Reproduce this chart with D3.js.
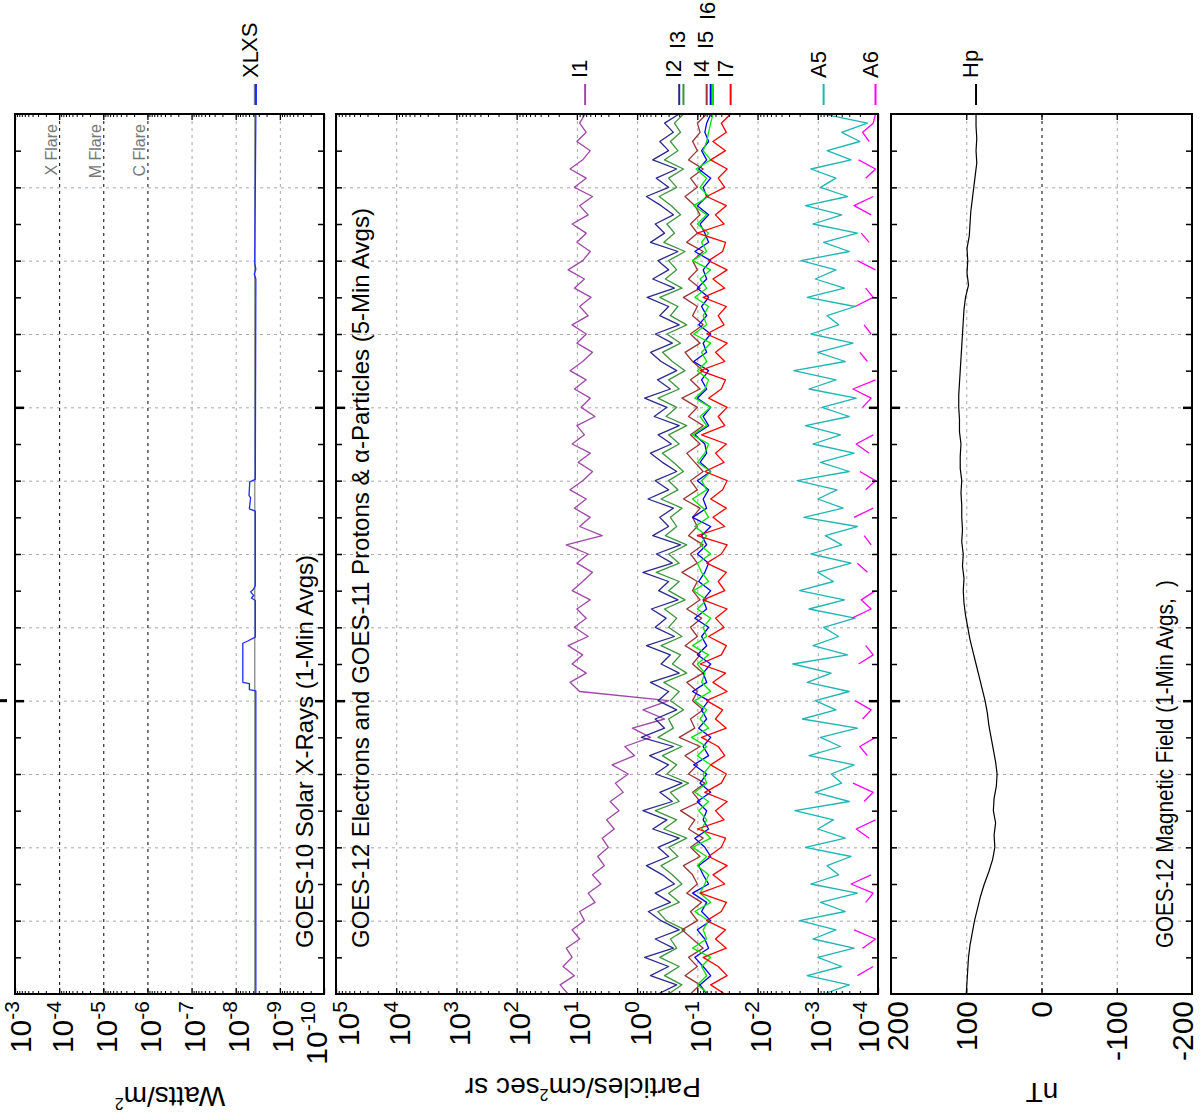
<!DOCTYPE html>
<html><head><meta charset="utf-8">
<script src="https://cdn.jsdelivr.net/npm/d3@7"></script>
<style>
html,body{margin:0;padding:0;background:#fff;}
svg{display:block;font-family:"Liberation Sans",Arial,Helvetica,sans-serif;}
</style></head><body>
<svg id="chart" width="1201" height="1120"></svg>
<script>
// ---------------- DATA ----------------
const hoursShown = 72;            // 3-day plot, time runs bottom -> top
const timeGridHours = [6,12,18,24,30,36,42,48,54,60,66];
const dayBoundaries = [24,48];

// X-rays (W/m^2)
const xrayTimes = [0,24.8,24.9,25.4,25.5,28.7,28.9,29.2,32.2,32.4,32.6,32.9,33.1,33.4,39.5,39.7,40.6,40.8,41.9,42.1,58.5,58.9,59.3,59.8,72];
const xlFlux = [3.5e-9,3.5e-9,4.9e-9,4.9e-9,6.9e-9,6.9e-9,5.2e-9,3.6e-9,3.6e-9,4.4e-9,3.9e-9,4.6e-9,4.0e-9,3.6e-9,3.6e-9,4.9e-9,4.6e-9,5.0e-9,4.8e-9,3.6e-9,3.5e-9,3.8e-9,3.5e-9,3.7e-9,3.5e-9];
const xsTimes = [0,72];
const xsFlux = [3.7e-9,3.7e-9];
const xrayTickExps = ["-3","-4","-5","-6","-7","-8","-9","-10"];
const flareLabels = ["X Flare","M Flare","C Flare"];
const flareLevels = [1e-4,1e-5,1e-6];

// Particles (5-min avgs), one sample every 0.75 h from t=0
const I1 = [14,19,11,17,12,15,9,12,7.5,9,5,6.5,4,5.5,3.5,4.5,3,3.8,2.4,3.2,2.0,2.8,1.7,2.3,1.4,2.6,1.1,1.6,0.6,1.2,0.35,0.8,0.3,9,13,7,12,8,14,6.5,11,7,10,6,12,8,5.5,10,6.5,15,3.8,9,6,11,7,13,8,5.5,9.5,6,12,7.5,10,5,8.5,6,11,7,13,8,5.5,10,7,12,6.5,9,5.8,11,7.5,14,8,6,10,7,12,6.5,9,5.5,11,7,13,8,6,10,7,9,7.3];
const I2 = [0.45,0.22,0.6,0.3,0.75,0.25,0.5,0.2,0.4,0.65,0.28,0.5,
 0.24,0.38,0.7,0.3,0.45,0.2,0.55,0.32,0.8,0.26,0.42,0.18,
 0.5,0.3,0.62,0.25,0.85,0.35,0.5,0.22,0.45,0.3,0.6,0.2,
 0.4,0.28,0.7,0.24,0.5,0.33,0.58,0.21,0.44,0.3,0.8,0.26,
 0.48,0.19,0.55,0.3,0.42,0.25,0.66,0.3,0.5,0.22,0.38,0.6,
 0.27,0.45,0.2,0.52,0.32,0.75,0.28,0.46,0.22,0.4,0.6,0.26,
 0.5,0.2,0.42,0.3,0.68,0.24,0.55,0.3,0.45,0.21,0.6,0.35,
 0.5,0.25,0.4,0.7,0.3,0.48,0.22,0.55,0.3,0.42,0.25,0.35,0.2];
const I3 = [0.3,0.18,0.35,0.2,0.42,0.22,0.28,0.16,0.33,0.45,0.2,0.3,
 0.18,0.26,0.4,0.21,0.3,0.15,0.36,0.22,0.5,0.2,0.28,0.14,
 0.32,0.22,0.38,0.18,0.45,0.25,0.3,0.17,0.28,0.2,0.36,0.15,
 0.26,0.19,0.4,0.18,0.3,0.22,0.35,0.16,0.3,0.2,0.48,0.2,
 0.3,0.15,0.34,0.22,0.28,0.18,0.4,0.21,0.3,0.17,0.25,0.38,
 0.2,0.3,0.15,0.33,0.22,0.45,0.2,0.3,0.16,0.26,0.38,0.19,
 0.32,0.15,0.28,0.21,0.42,0.18,0.34,0.22,0.3,0.16,0.36,0.24,
 0.32,0.19,0.27,0.43,0.22,0.3,0.17,0.35,0.21,0.28,0.19,0.24,0.17];
const I4 = [0.13,0.09,0.16,0.1,0.14,0.08,0.12,0.18,0.1,0.13,0.085,0.15,
 0.1,0.12,0.17,0.09,0.13,0.08,0.14,0.11,0.19,0.09,0.12,0.075,
 0.14,0.1,0.16,0.09,0.2,0.11,0.13,0.08,0.12,0.1,0.15,0.08,
 0.12,0.09,0.16,0.1,0.13,0.085,0.15,0.09,0.12,0.1,0.18,0.1,
 0.13,0.08,0.14,0.1,0.12,0.09,0.17,0.1,0.13,0.08,0.11,0.15,
 0.09,0.13,0.08,0.14,0.1,0.18,0.09,0.13,0.08,0.12,0.16,0.09,
 0.13,0.08,0.12,0.1,0.17,0.09,0.14,0.1,0.12,0.08,0.15,0.1,
 0.13,0.09,0.11,0.16,0.1,0.13,0.08,0.14,0.1,0.12,0.09,0.1,0.07];
const I5 = [0.07,0.09,0.06,0.08,0.11,0.065,0.075,0.1,0.06,0.085,0.07,0.12,
 0.065,0.08,0.095,0.06,0.075,0.11,0.065,0.08,0.07,0.1,0.06,0.09,
 0.07,0.115,0.065,0.08,0.06,0.095,0.07,0.085,0.065,0.12,0.07,0.08,
 0.06,0.1,0.07,0.085,0.065,0.11,0.07,0.08,0.06,0.095,0.075,0.065,
 0.1,0.07,0.085,0.06,0.12,0.07,0.08,0.065,0.1,0.06,0.09,0.07,
 0.075,0.11,0.065,0.08,0.06,0.1,0.07,0.085,0.065,0.115,0.07,0.08,
 0.06,0.095,0.07,0.085,0.065,0.1,0.07,0.08,0.06,0.11,0.065,0.075,
 0.09,0.065,0.1,0.07,0.08,0.06,0.095,0.07,0.085,0.065,0.075,0.07,0.06];
const I6 = [0.065,0.1,0.07,0.085,0.06,0.12,0.07,0.08,0.065,0.11,0.06,0.09,
 0.075,0.065,0.1,0.07,0.12,0.06,0.085,0.07,0.095,0.065,0.11,0.07,
 0.08,0.06,0.1,0.07,0.125,0.065,0.09,0.07,0.11,0.06,0.085,0.075,
 0.1,0.065,0.12,0.07,0.08,0.06,0.1,0.07,0.115,0.065,0.085,0.1,
 0.06,0.09,0.07,0.11,0.065,0.08,0.12,0.07,0.085,0.06,0.1,0.075,
 0.065,0.12,0.07,0.09,0.06,0.11,0.075,0.065,0.1,0.07,0.085,0.06,
 0.115,0.07,0.08,0.065,0.11,0.07,0.09,0.06,0.12,0.07,0.085,0.065,
 0.1,0.07,0.115,0.065,0.09,0.07,0.105,0.06,0.08,0.07,0.065,0.06,0.055];
const I7 = [0.035,0.06,0.032,0.045,0.08,0.033,0.05,0.034,0.07,0.04,0.033,0.09,
 0.035,0.055,0.032,0.065,0.04,0.034,0.1,0.036,0.05,0.032,0.075,0.04,
 0.033,0.06,0.035,0.045,0.085,0.033,0.05,0.038,0.07,0.032,0.055,0.034,
 0.09,0.04,0.033,0.065,0.036,0.05,0.032,0.08,0.035,0.045,0.033,0.07,
 0.04,0.032,0.1,0.035,0.055,0.033,0.06,0.038,0.032,0.075,0.036,0.05,
 0.033,0.085,0.035,0.045,0.032,0.065,0.04,0.034,0.09,0.035,0.05,0.032,
 0.07,0.036,0.045,0.033,0.08,0.035,0.055,0.032,0.065,0.038,0.034,0.1,
 0.036,0.05,0.033,0.07,0.035,0.045,0.032,0.06,0.034,0.055,0.033,0.04,0.028];
const A5 = [8e-4,3e-4,1.5e-3,4e-4,1e-3,2.5e-4,1.2e-3,5e-4,2e-3,3.5e-4,9e-4,2.2e-4,
 1.3e-3,4.5e-4,7e-4,2.8e-4,1.6e-3,3.5e-4,1e-3,5.5e-4,2.4e-3,3e-4,1.1e-3,4e-4,
 6e-4,2.5e-4,1.4e-3,4.2e-4,9e-4,2.2e-4,1.8e-3,5e-4,1.1e-3,3e-4,1.5e-3,6e-4,
 2.6e-3,3.2e-4,1.2e-3,4.5e-4,8e-4,2.4e-4,1.4e-3,3.6e-4,2e-3,5.5e-4,1e-3,2.8e-4,
 1.3e-3,4e-4,7.5e-4,2.2e-4,1.7e-3,3.8e-4,1e-3,4.8e-4,2.2e-3,3e-4,9e-4,2.5e-4,
 1.2e-3,4.2e-4,1.6e-3,3e-4,8.5e-4,2.3e-4,1.4e-3,5e-4,2.5e-3,3.5e-4,1e-3,2.6e-4,
 1.3e-3,4.5e-4,7e-4,2.4e-4,1.5e-3,3.6e-4,1.1e-3,5e-4,1.9e-3,3e-4,8e-4,2.2e-4,
 1.2e-3,4e-4,1.6e-3,3.2e-4,9e-4,5e-4,1.3e-3,2.8e-4,7e-4,2e-4,4e-4,1.5e-4,8e-4];
const A6 = [1.5e-4,null,2.2e-4,1.2e-4,null,1.8e-4,1.1e-4,2.5e-4,null,null,1.6e-4,1.2e-4,
 2.8e-4,1.3e-4,null,1.9e-4,null,1.4e-4,2.3e-4,1.1e-4,null,1.7e-4,1.2e-4,2.6e-4,
 null,null,1.5e-4,2e-4,1.1e-4,null,1.8e-4,1.3e-4,2.4e-4,null,1.4e-4,null,
 2.1e-4,1.2e-4,1.6e-4,null,null,2.7e-4,1.3e-4,1.9e-4,1.1e-4,null,1.5e-4,2.2e-4,
 null,1.3e-4,1.7e-4,null,2.5e-4,1.2e-4,null,1.6e-4,1.1e-4,2e-4,null,1.4e-4,
 2.3e-4,1.2e-4,null,null,1.8e-4,1.3e-4,2.6e-4,1.1e-4,null,1.5e-4,2e-4,null,
 1.3e-4,1.7e-4,null,2.4e-4,1.2e-4,1.6e-4,null,1.1e-4,2.2e-4,null,1.4e-4,1.9e-4,
 null,1.3e-4,2.5e-4,1.2e-4,null,1.6e-4,1.1e-4,2.1e-4,null,1.4e-4,1.8e-4,1.2e-4,1.1e-4];
const particleNames = ["I1","I2","I3","I4","I5","I6","I7","A5","A6"];
const particleTickExps = ["5","4","3","2","1","0","-1","-2","-3","-4"];

// Magnetic field Hp (nT), hourly
const Hp = [100,99,98,97,95,92,89,85,81,76,70,65,62,63,61,64,63,60,59,61,64,67,70,72,75,79,83,87,91,95,98,101,103,104,103,105,104,106,105,106,106,107,106,108,108,107,109,109,110,110,109,108,107,106,105,104,103,101,97,99,98,99,96,95,94,92,90,88,86,87,86,87,87];
const magTicks = [200,100,0,-100,-200];

// ---------------- DRAWING ----------------
const svg = d3.select("#chart");
svg.append("rect").attr("width",1201).attr("height",1120).attr("fill","#fff");
const FONT = '"Liberation Sans",Arial,Helvetica,sans-serif';
const T0 = 114, T1 = 994;
const tScale = d3.scaleLinear().domain([0,hoursShown]).range([T1,T0]);
const GRID = "#a8a8a8";

const xrScale = d3.scaleLog().domain([1e-3,1e-10]).range([15,324]);
const pScale = d3.scaleLog().domain([1e5,1e-4]).range([336,878]);
const mScale = d3.scaleLinear().domain([200,-200]).range([891,1192]);

const panels = [
  {id:"xr", x0:15, x1:324, scale:xrScale, log:true, lo:4, hi:327},
  {id:"pa", x0:336, x1:878, scale:pScale, log:true, lo:332, hi:879},
  {id:"mg", x0:891, x1:1192, scale:mScale, log:false, lo:887, hi:1193}
];

const defs = svg.append("defs");
panels.forEach(p=>{
  defs.append("clipPath").attr("id","clip-"+p.id).append("rect")
    .attr("x",p.x0).attr("y",T0).attr("width",p.x1-p.x0).attr("height",T1-T0);
});

function decadesOf(scale){
  const d = scale.domain(); const lo = Math.min(d[0],d[1]), hi = Math.max(d[0],d[1]);
  const out=[]; for(let e=Math.round(Math.log10(lo)); e<=Math.round(Math.log10(hi)); e++) out.push(Math.pow(10,e));
  return out;
}
function minorsOf(scale){
  const d = scale.domain(); const hi = Math.max(d[0],d[1]);
  const out=[]; decadesOf(scale).forEach(v=>{ for(let k=2;k<=9;k++){ const m=k*v; if(m<hi) out.push(m);} });
  return out;
}

// Grids
panels.forEach(p=>{
  const g = svg.append("g");
  g.append("g").attr("transform",`translate(${p.x0},0)`)
    .call(d3.axisRight(tScale).tickValues(timeGridHours).tickSize(p.x1-p.x0).tickFormat(""))
    .call(a=>a.select(".domain").remove())
    .selectAll("line").attr("stroke",GRID).attr("stroke-dasharray","3,4");
  let vals, blackSet;
  if(p.id==="xr"){ vals = decadesOf(p.scale).filter(v=>v<9e-4 && v>2e-10); blackSet = flareLevels; }
  else if(p.id==="pa"){ vals = decadesOf(p.scale).filter(v=>v<9e4 && v>2e-4); blackSet = []; }
  else { vals = [100,0,-100]; blackSet=[0]; }
  const isBlack = d => blackSet.some(b=> b===d || Math.abs(Math.log10(Math.abs(b)||1)-Math.log10(Math.abs(d)||1))<1e-9 && b!==0 && d!==0);
  g.append("g").attr("transform",`translate(0,${T0})`)
    .call(d3.axisBottom(p.scale).tickValues(vals).tickSize(T1-T0).tickFormat(""))
    .call(a=>a.select(".domain").remove())
    .selectAll("line")
      .attr("stroke",d=>isBlack(d)?"#000":GRID)
      .attr("stroke-dasharray","3,4");
});

// Flare labels
flareLabels.forEach((s,i)=>{
  svg.append("text").attr("transform",`translate(${xrScale(flareLevels[i])-2},124) rotate(-90)`)
    .attr("text-anchor","end").attr("font-size",16).attr("fill","#777").attr("font-family",FONT).text(s);
});

// Data
const stepTime = (arr)=> arr.map((v,i)=>({t:i*hoursShown/(arr.length-1), v}));
function drawSeries(p, data, color, width){
  const line = d3.line().defined(d=>d.v!=null).x(d=>p.scale(d.v)).y(d=>tScale(d.t));
  svg.append("path").datum(data).attr("clip-path",`url(#clip-${p.id})`)
    .attr("fill","none").attr("stroke",color).attr("stroke-width",width).attr("stroke-linejoin","round").attr("d",line);
}
drawSeries(panels[0], xsTimes.map((t,i)=>({t,v:xsFlux[i]})), "#888", 1.3);
drawSeries(panels[0], xrayTimes.map((t,i)=>({t,v:xlFlux[i]})), "#1a2cff", 1.3);

const particleSeries = [I1,I2,I3,I4,I5,I6,I7,A5,A6];
const particleColors = ["#a046aa","#28288f","#3a963a","#9c3434","#0000ff","#00e600","#ff0000","#1eb4b4","#ff00ff"];
particleSeries.forEach((s,i)=> drawSeries(panels[1], stepTime(s), particleColors[i], 1.3));

drawSeries(panels[2], stepTime(Hp), "#000", 1.2);

// Frames and ticks
panels.forEach(p=>{
  const g = svg.append("g");
  const tick3 = d3.range(3,hoursShown,3);
  g.append("g").attr("transform",`translate(${p.x0},0)`)
    .call(d3.axisRight(tScale).tickValues(tick3).tickSize(6).tickFormat(""))
    .call(a=>a.select(".domain").remove())
    .selectAll("line").attr("stroke","#000").attr("stroke-width",d=>dayBoundaries.includes(d)?2.5:1.5)
    .attr("x2",d=>dayBoundaries.includes(d)?9:6);
  g.append("g").attr("transform",`translate(${p.x1},0)`)
    .call(d3.axisLeft(tScale).tickValues(tick3).tickSize(6).tickFormat(""))
    .call(a=>a.select(".domain").remove())
    .selectAll("line").attr("stroke","#000").attr("stroke-width",d=>dayBoundaries.includes(d)?2.5:1.5)
    .attr("x2",d=>dayBoundaries.includes(d)?-9:-6);
  let majors, minors;
  if(p.log){ majors = decadesOf(p.scale); minors = minorsOf(p.scale); }
  else { majors = [100,0,-100]; minors = []; }
  [[d3.axisBottom,T0],[d3.axisTop,T1]].forEach(([ax,y])=>{
    g.append("g").attr("transform",`translate(0,${y})`)
      .call(ax(p.scale).tickValues(majors).tickSize(6).tickFormat(""))
      .call(a=>a.select(".domain").remove()).selectAll("line").attr("stroke","#000").attr("stroke-width",1.3);
    if(minors.length) g.append("g").attr("transform",`translate(0,${y})`)
      .call(ax(p.scale).tickValues(minors).tickSize(3).tickFormat(""))
      .call(a=>a.select(".domain").remove()).selectAll("line").attr("stroke","#000").attr("stroke-width",1);
  });
  g.append("rect").attr("x",p.x0).attr("y",T0).attr("width",p.x1-p.x0).attr("height",T1-T0)
    .attr("fill","none").attr("stroke","#000").attr("stroke-width",2);
});
svg.append("rect").attr("x",0).attr("y",tScale(24)-1.5).attr("width",7).attr("height",3).attr("fill","#000");

// Tick labels (rotated)
const TL = 30, TS = 21, TSD = -12;
function tickLabel(p, value, main, sup){
  const w = sup ? (-TSD + TS*0.716) : TL*0.716;
  const c = p.scale(value);
  const left = Math.max(p.lo, Math.min(p.hi - w, c - w/2));
  const base = left + w;
  const t = svg.append("text").attr("transform",`translate(${base},1001) rotate(-90)`)
    .attr("text-anchor","end").attr("font-size",TL).attr("font-family",FONT);
  t.append("tspan").text(main);
  if(sup) t.append("tspan").attr("font-size",TS).attr("dy",TSD).text(sup);
}
xrayTickExps.forEach(e=> tickLabel(panels[0], Math.pow(10,+e), "10", e));
particleTickExps.forEach(e=> tickLabel(panels[1], Math.pow(10,+e), "10", e));
magTicks.forEach(v=> tickLabel(panels[2], v, String(v), null));

// Axis titles (upside down)
function flipTitle(x, y, parts){
  const t = svg.append("text").attr("transform",`translate(${x},${y}) rotate(180)`)
    .attr("text-anchor","middle").attr("font-size",28).attr("font-family",FONT);
  parts.forEach(([s,sup])=>{
    const ts = t.append("tspan").text(s);
    if(sup==="up"){ ts.attr("font-size",16).attr("dy",-11); }
    else if(sup==="down"){ ts.attr("dy",11); }
  });
}
flipTitle(170,1087,[["Watts/m"],["2","up"]]);
flipTitle(583,1078,[["Particles/cm"],["2","up"],["sec sr","down"]]);
flipTitle(1042,1083,[["nT"]]);

// Panel titles
[["GOES-10 Solar X-Rays (1-Min Avgs)",313,null],
 ["GOES-12 Electrons and GOES-11 Protons & \u03b1-Particles (5-Min Avgs)",369,null],
 ["GOES-12 Magnetic Field (1-Min Avgs,  )",1173,368]].forEach(([s,x,len])=>{
  const t = svg.append("text").attr("transform",`translate(${x},948) rotate(-90)`)
    .attr("text-anchor","start").attr("font-size",24).attr("font-family",FONT)
    .attr("xml:space","preserve").style("white-space","pre").text(s);
  if(len) t.attr("textLength",len).attr("lengthAdjust","spacingAndGlyphs");
});

// Legends: marker at last value, labels staggered
function legend(items, spacing){
  const placed=[];
  items.forEach(it=>{
    let lvl=0;
    while(placed.some(q=>q.level===lvl && Math.abs(q.x-it.x)<18)) lvl++;
    it.level=lvl; placed.push(it);
  });
  items.forEach(it=>{
    svg.append("line").attr("x1",it.x).attr("x2",it.x).attr("y1",84).attr("y2",105)
      .attr("stroke",it.color).attr("stroke-width",2);
    svg.append("text").attr("transform",`translate(${it.x+2},${78-it.level*spacing}) rotate(-90)`)
      .attr("text-anchor","start").attr("font-size",22).attr("font-family",FONT).text(it.name);
  });
}
legend([
  {name:"XL", x:xrScale(xlFlux[xlFlux.length-1]), color:"#1a2cff"},
  {name:"XS", x:xrScale(xsFlux[xsFlux.length-1]), color:"#888"}
], 26);
svg.append("line").attr("x1",xrScale(xlFlux[xlFlux.length-1])).attr("x2",xrScale(xlFlux[xlFlux.length-1]))
  .attr("y1",84).attr("y2",105).attr("stroke","#1a2cff").attr("stroke-width",2);
legend(particleSeries.map((s,i)=>({name:particleNames[i], x:pScale(s[s.length-1]), color:particleColors[i]})), 29);
legend([{name:"Hp", x:mScale(Hp[Hp.length-1]), color:"#000"}], 29);
</script>
</body></html>
